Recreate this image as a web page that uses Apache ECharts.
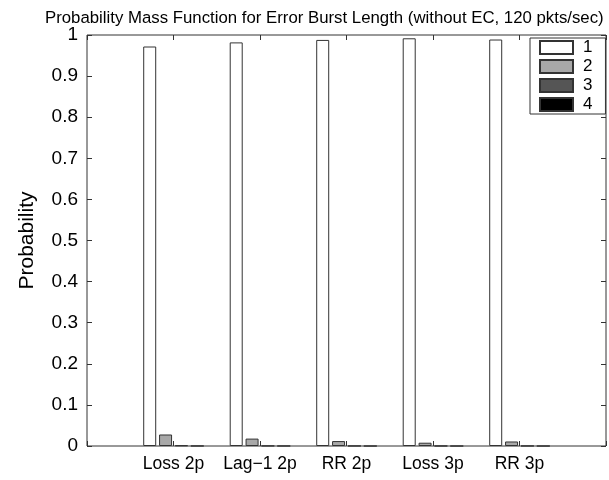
<!DOCTYPE html>
<html>
<head>
<meta charset="utf-8">
<script src="https://cdn.jsdelivr.net/npm/echarts@6/dist/echarts.min.js"></script>
<style>
  html, body { margin: 0; padding: 0; background: #fff; }
  #box { width: 609px; height: 480px; }
</style>
</head>
<body>
<div id="box"></div>
<script>
// data
const categories = ['Loss 2p', 'Lag\u22121 2p', 'RR 2p', 'Loss 3p', 'RR 3p']
const burst1 = [0.972, 0.982, 0.988, 0.992, 0.989]
const burst2 = [0.028, 0.018, 0.012, 0.008, 0.011]
const burst3 = [0.0015, 0.0005, 0.0003, 0.0002, 0.0003]
const burst4 = [0.0002, 0.0001, 0, 0, 0]
const yTicks = [0, 0.1, 0.2, 0.3, 0.4, 0.5, 0.6, 0.7, 0.8, 0.9, 1]

// matlab style x range 0..6, categories sit at 1..5
const axisCats = ['', ...categories, '']
const pad = arr => [null, ...arr, null]

const font = 'Liberation Sans, Arial, Helvetica, sans-serif'
const edge = '#333'

const myChart = echarts.init(document.getElementById('box'))

const mkSeries = (name, color, data) => ({
  name: name,
  type: 'bar',
  data: pad(data),
  barWidth: 13,
  barGap: '22%',
  itemStyle: { color: color, borderColor: edge, borderWidth: 1 }
})

const option = {
  animation: false,
  title: {
    text: 'Probability Mass Function for Error Burst Length (without EC, 120 pkts/sec)',
    left: 40,
    top: 5,
    textStyle: { fontFamily: font, fontSize: 16.8, fontWeight: 'normal', color: '#000' }
  },
  legend: {
    orient: 'vertical',
    left: 530,
    top: 38,
    itemWidth: 33,
    itemHeight: 13,
    itemGap: 2,
    padding: [1, 13, 1, 9],
    borderColor: edge,
    borderWidth: 1,
    backgroundColor: '#fff',
    icon: 'rect',
    textStyle: { fontFamily: font, fontSize: 17, color: '#000', padding: [0, 0, 0, 5] },
    data: ['1', '2', '3', '4']
  },
  grid: {
    left: 87,
    right: 1,
    top: 35,
    bottom: 34,
    show: true,
    borderColor: edge,
    borderWidth: 1,
    containLabel: false
  },
  xAxis: [
    {
      type: 'category',
      data: axisCats,
      boundaryGap: false,
      position: 'bottom',
      axisLine: { show: false, onZero: false },
      axisTick: { inside: true, length: 5, lineStyle: { color: edge } },
      axisLabel: { fontFamily: font, fontSize: 17.5, color: '#000', margin: 9, interval: 0 },
      splitLine: { show: false }
    },
    {
      type: 'category',
      data: axisCats,
      boundaryGap: false,
      position: 'top',
      axisLine: { show: false, onZero: false },
      axisTick: { inside: true, length: 5, lineStyle: { color: edge } },
      axisLabel: { show: false }
    }
  ],
  yAxis: [
    {
      type: 'value',
      min: 0,
      max: 1,
      interval: 0.1,
      name: 'Probability',
      nameLocation: 'middle',
      nameGap: 49,
      nameTextStyle: { fontFamily: font, fontSize: 21, color: '#000' },
      axisLine: { show: false },
      axisTick: { show: true, inside: true, length: 5, lineStyle: { color: edge } },
      axisLabel: {
        fontFamily: font, fontSize: 19, color: '#000', margin: 9,
        formatter: v => String(yTicks.find(t => Math.abs(t - v) < 1e-9) ?? v)
      },
      splitLine: { show: false }
    },
    {
      type: 'value',
      min: 0,
      max: 1,
      interval: 0.1,
      position: 'right',
      axisLine: { show: false },
      axisTick: { show: true, inside: true, length: 5, lineStyle: { color: edge } },
      axisLabel: { show: false },
      splitLine: { show: false }
    }
  ],
  series: [
    mkSeries('1', '#ffffff', burst1),
    mkSeries('2', '#a8a8a8', burst2),
    mkSeries('3', '#555555', burst3),
    mkSeries('4', '#000000', burst4)
  ]
}

myChart.setOption(option)
</script>
</body>
</html>
